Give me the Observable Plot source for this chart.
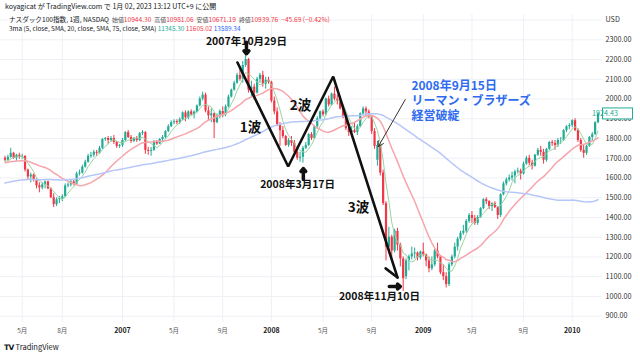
<!DOCTYPE html>
<html><head><meta charset="utf-8">
<script src="https://cdn.jsdelivr.net/npm/d3@7"></script>
<script src="https://cdn.jsdelivr.net/npm/@observablehq/plot@0.6"></script>
<style>
html,body{margin:0;padding:0;background:#fff;}
#wrap{position:relative;width:640px;height:355px;overflow:hidden;font-family:"Noto Sans CJK JP","Noto Sans",sans-serif;}
#chart svg{position:absolute;left:0;top:0;}
.hdr{position:absolute;white-space:nowrap;color:#131722;line-height:1;}
.r{color:#f23645}.g{color:#22ab94}.b{color:#2962ff}.l{color:#555;font-size:0.9em}
</style></head><body><div id="wrap"><div id="chart"></div>
<div class="hdr" style="left:5px;top:3px;font-size:7px;">koyagicat が TradingView.com で 1月 02, 2023 13:12 UTC+9 に公開</div>
<div class="hdr" style="left:9px;top:16px;font-size:6.6px;">ナスダック100指数, 1週, NASDAQ&nbsp; <span class="l">始値</span><span class="r">10944.30</span>&nbsp; <span class="l">高値</span><span class="r">10981.06</span>&nbsp; <span class="l">安値</span><span class="r">10671.19</span>&nbsp; <span class="l">終値</span><span class="r">10939.76</span>&nbsp; <span class="r">−45.69 (−0.42%)</span></div>
<div class="hdr" style="left:9px;top:26px;font-size:6.4px;">3ma (5, close, SMA, 20, close, SMA, 75, close, SMA) <span class="g">11345.30</span> <span class="r">11605.02</span> <span class="b">13589.34</span></div>
<div class="hdr" style="left:4px;top:343px;font-size:7.5px;"><b style="font-family:'DejaVu Sans';font-weight:900;letter-spacing:-0.5px">TV</b> TradingView</div>
</div>
<script>
const firstMonday = "2006-03-20";
const opens = [1700,1690,1705,1725,1700,1715,1705,1710,1640,1605,1615,1590,1560,1550,1565,1580,1545,1500,1465,1490,
1495,1505,1560,1565,1580,1570,1620,1625,1655,1680,1710,1715,1730,1725,1750,1795,1800,1790,1800,1780,
1760,1765,1790,1830,1805,1785,1800,1790,1825,1830,1740,1735,1740,1780,1772,1795,1805,1835,1860,1880,
1885,1880,1895,1930,1905,1935,1920,1934,1965,2000,2020,1940,1915,1925,1880,1915,1937,1920,1960,2010,
2045,2080,2120,2100,2170,2200,2045,2060,2030,2100,2120,2075,2095,2085,1990,1935,1870,1840,1810,1765,
1790,1775,1730,1700,1705,1750,1765,1820,1800,1860,1900,1935,1920,2000,1970,2025,2000,1990,1950,1905,
1850,1830,1840,1830,1860,1925,1950,1935,1910,1835,1690,1765,1625,1470,1250,1300,1230,1330,1260,1190,
1100,1180,1200,1215,1220,1195,1225,1210,1180,1140,1160,1230,1200,1120,1100,1060,1160,1200,1250,1290,
1320,1330,1380,1410,1395,1370,1400,1445,1490,1480,1455,1470,1450,1410,1515,1570,1590,1600,1610,1630,
1635,1620,1670,1700,1675,1660,1715,1740,1730,1690,1745,1780,1775,1765,1790,1790,1840,1860,1865,1890,
1840,1790,1740,1725,1760,1805,1820,1880];
const highs = [1710,1715,1750,1730,1720,1725,1720,1712,1645,1625,1620,1595,1575,1575,1585,1585,1550,1520,1500,1505,
1515,1570,1575,1590,1590,1630,1640,1665,1690,1720,1730,1740,1740,1760,1800,1805,1810,1810,1815,1785,
1770,1800,1835,1840,1815,1805,1810,1830,1840,1835,1755,1755,1790,1790,1800,1815,1840,1870,1890,1895,
1895,1905,1935,1940,1940,1945,1940,1970,2010,2035,2030,1960,1950,1930,1925,1945,1960,1970,2020,2050,
2090,2130,2160,2190,2239,2205,2090,2075,2110,2130,2140,2110,2110,2090,2010,1955,1880,1860,1815,1800,
1810,1790,1750,1730,1760,1780,1825,1830,1865,1910,1940,1945,2005,2015,2030,2060,2020,2010,1960,1910,
1870,1860,1880,1870,1930,1960,1960,1945,1915,1850,1785,1770,1640,1480,1350,1310,1340,1345,1270,1200,
1190,1210,1250,1245,1225,1230,1270,1215,1200,1200,1240,1270,1205,1160,1120,1170,1210,1270,1300,1330,
1360,1390,1420,1430,1410,1410,1450,1495,1500,1485,1475,1480,1455,1520,1580,1600,1615,1630,1640,1650,
1645,1680,1710,1715,1690,1720,1750,1760,1745,1750,1785,1790,1790,1800,1805,1845,1865,1875,1895,1900,
1850,1800,1770,1765,1810,1830,1885,1930];
const lows = [1680,1685,1700,1695,1685,1695,1695,1630,1590,1575,1580,1545,1525,1540,1545,1540,1495,1450,1455,1470,
1480,1500,1550,1555,1560,1565,1610,1620,1650,1675,1700,1705,1710,1720,1745,1785,1770,1780,1770,1750,
1750,1755,1785,1800,1775,1780,1780,1785,1815,1720,1715,1710,1735,1765,1770,1785,1800,1830,1855,1870,
1870,1870,1890,1885,1895,1915,1900,1930,1960,1990,1930,1890,1880,1800,1875,1900,1905,1910,1955,2005,
2040,2075,2090,2080,2160,2030,2010,1995,2025,2080,2060,2050,2075,1980,1920,1860,1760,1800,1760,1755,
1760,1720,1690,1680,1675,1745,1760,1790,1795,1850,1895,1910,1915,1960,1965,1990,1970,1945,1900,1840,
1810,1805,1825,1815,1855,1915,1910,1900,1820,1745,1660,1610,1460,1180,1220,1180,1220,1230,1150,1025,
1085,1130,1185,1190,1180,1185,1200,1150,1120,1130,1150,1190,1110,1080,1043,1050,1150,1190,1230,1280,
1310,1320,1370,1370,1360,1360,1395,1440,1465,1440,1430,1445,1390,1400,1510,1560,1580,1585,1570,1620,
1590,1615,1665,1660,1640,1655,1710,1710,1670,1680,1740,1760,1740,1755,1770,1785,1830,1845,1855,1835,
1780,1730,1700,1715,1755,1785,1815,1875];
const closes = [1690,1705,1725,1700,1715,1705,1710,1640,1605,1615,1590,1560,1550,1565,1580,1545,1500,1465,1490,1495,
1505,1560,1565,1580,1570,1620,1625,1655,1680,1710,1715,1730,1725,1750,1795,1800,1790,1800,1780,1760,
1765,1790,1830,1805,1785,1800,1790,1825,1830,1740,1735,1740,1780,1772,1795,1805,1835,1860,1880,1885,
1880,1895,1930,1905,1935,1920,1934,1965,2000,2020,1940,1915,1925,1880,1915,1937,1920,1960,2010,2045,
2080,2120,2100,2170,2200,2045,2060,2030,2100,2120,2075,2095,2085,1990,1935,1870,1840,1810,1765,1790,
1775,1730,1700,1705,1750,1765,1820,1800,1860,1900,1935,1920,2000,1970,2025,2000,1990,1950,1905,1850,
1830,1840,1830,1860,1925,1950,1935,1910,1835,1760,1765,1625,1470,1250,1300,1230,1330,1260,1190,1090,
1180,1200,1215,1220,1195,1225,1210,1180,1140,1160,1230,1200,1120,1100,1060,1160,1200,1250,1290,1320,
1330,1380,1410,1395,1370,1400,1445,1490,1480,1455,1470,1450,1410,1515,1570,1590,1600,1610,1630,1635,
1620,1670,1700,1675,1660,1715,1740,1730,1690,1745,1780,1775,1765,1790,1790,1840,1860,1865,1890,1840,
1790,1740,1725,1760,1805,1820,1880,1924.43];
// weekly closes before the visible range (only used to seed the moving averages)
const priorCloses = [1430,1460,1510,1540,1540,1560,1570,1560,1590,1610,1620,
1560,1550,1510,1520,1540,1530,1520,1530,1540,1510,1490,1470,1480,1490,1440,1430,1410,1440,1460,1510,1520,1530,1530,1540,1500,1500,
1540,1580,1600,1610,1600,1580,1570,1570,1590,1600,1590,1570,1600,1580,1560,1560,1570,1620,1640,1660,1680,1680,1690,1680,1670,1650,
1700,1720,1660,1690,1660,1650,1680,1690,1680,1660,1700];
const yTicks = [900,1000,1100,1200,1300,1400,1500,1600,1700,1800,1900,2000,2100,2200,2300,2400];
const xTickDates = ["2006-05-01","2006-08-07","2007-01-01","2007-05-07","2007-09-03","2007-12-31","2008-05-05","2008-09-01","2009-01-05","2009-05-04","2009-09-07","2010-01-04"];
const xTickLabels = ["5月","8月","2007","5月","9月","2008","5月","9月","2009","5月","9月","2010"];
const maPeriods = [5, 20, 75];
const maColors = ["#9bd3a0", "#f6a5ab", "#b6c6f7"];
// annotations (date, price)
const waveDates = ["2007-10-09","2008-02-10","2008-05-30","2008-11-03"];
const waveValues = [2185,1658,2114,1096];
const hookDates = ["2008-10-05","2008-11-03"];
const hookValues = [1142,1096];
const dateLabels = ["2007年10月29日","2008年3月17日","2008年11月10日"];
const dateLabelDates = ["2007-10-31","2008-03-04","2008-09-20"];
const dateLabelValues = [2292,1567,1000];
const waveLabels = ["1波","2波","3波"];
const waveLabelDates = ["2007-11-10","2008-03-11","2008-07-31"];
const waveLabelValues = [1853,1965,1450];
const lehmanLines = ["2008年9月15日","リーマン・ブラザーズ","経営破綻"];
const lehmanDate = "2008-12-07";
const lehmanValues = [2065,1989,1913];
const blockArrows = [
  {x1:"2007-10-31", y1:2287, x2:"2007-10-31", y2:2229},
  {x1:"2008-03-18", y1:1592, x2:"2008-03-18", y2:1648},
  {x1:"2008-10-14", y1:1050, x2:"2008-11-10", y2:1050}];
const lehmanArrow = {x1:"2008-11-22", y1:1997, x2:"2008-09-17", y2:1759};

const D = s => new Date(s + "T00:00:00Z");
const start = D(firstMonday);
const bars = closes.map((c, i) => ({date: d3.utcDay.offset(start, 7 * i), open: opens[i], high: highs[i], low: lows[i], close: c}));
const allCloses = priorCloses.concat(closes);
const maSeries = maPeriods.map((k, m) => closes.map((_, i) => {
  const j = i + priorCloses.length;
  return {date: bars[i].date, value: d3.mean(allCloses.slice(j - k + 1, j + 1)), m};
}));
const up = bars.filter(d => d.close >= d.open), down = bars.filter(d => d.close < d.open);
const GREEN = "#22ab94", RED = "#f23645", GRID = "#eef0f5";
const font = "'Noto Sans CJK JP','Noto Sans',sans-serif";
const isYear = s => /^\d{4}$/.test(s);

const plot = Plot.plot({
  width: 640, height: 355,
  marginTop: 14, marginBottom: 33, marginLeft: 0, marginRight: 38,
  x: {type: "utc", domain: [D("2006-03-09"), D("2010-03-19")]},
  y: {domain: [867.9, 2428.2]},
  style: {fontFamily: font, background: "transparent", overflow: "visible"},
  marks: [
    Plot.ruleY(yTicks, {stroke: GRID, strokeWidth: 1}),
    Plot.ruleX(xTickDates.map(D), {stroke: GRID, strokeWidth: 1}),
    Plot.axisY({anchor: "right", ticks: yTicks, tickSize: 0, tickPadding: 3, fontSize: 7.2, color: "#333",
      tickFormat: d => d === 2400 ? "USD" : d.toFixed(2), label: null}),
    Plot.axisX({ticks: xTickDates.filter((d, i) => !isYear(xTickLabels[i])).map(D), tickSize: 0, tickPadding: 6, fontSize: 6.5, color: "#555",
      tickFormat: d => xTickLabels[xTickDates.indexOf(d.toISOString().slice(0, 10))], label: null}),
    Plot.axisX({ticks: xTickDates.filter((d, i) => isYear(xTickLabels[i])).map(D), tickSize: 0, tickPadding: 6, fontSize: 7, fontWeight: "bold", color: "#222",
      tickFormat: d => xTickLabels[xTickDates.indexOf(d.toISOString().slice(0, 10))], label: null}),
    Plot.ruleX(up, {x: "date", y1: "low", y2: "high", stroke: GREEN, strokeWidth: 1}),
    Plot.ruleX(down, {x: "date", y1: "low", y2: "high", stroke: RED, strokeWidth: 1}),
    Plot.ruleX(up, {x: "date", y1: "open", y2: "close", stroke: GREEN, strokeWidth: 2.2}),
    Plot.ruleX(down, {x: "date", y1: "open", y2: "close", stroke: RED, strokeWidth: 2.2}),
    ...maSeries.map((s, m) => Plot.line(s, {x: "date", y: "value", stroke: maColors[m], strokeWidth: m === 0 ? 1 : 1.5})),
    Plot.line(waveDates.map((d, i) => ({date: D(d), v: waveValues[i]})), {x: "date", y: "v", stroke: "#111", strokeWidth: 2.6, strokeLinejoin: "miter"}),
    Plot.line(hookDates.map((d, i) => ({date: D(d), v: hookValues[i]})), {x: "date", y: "v", stroke: "#111", strokeWidth: 2.6}),
    Plot.arrow(blockArrows, {x1: d => D(d.x1), y1: "y1", x2: d => D(d.x2), y2: "y2", stroke: "#111", strokeWidth: 3.5, headLength: 7, headAngle: 80}),
    Plot.arrow([lehmanArrow], {x1: d => D(d.x1), y1: "y1", x2: d => D(d.x2), y2: "y2", stroke: "#333", strokeWidth: 1, headLength: 9}),
    Plot.text(dateLabels, {x: (d, i) => D(dateLabelDates[i]), y: (d, i) => dateLabelValues[i], text: d => d, fontSize: 10.5, fontWeight: "bold", fill: "#111", textAnchor: "middle"}),
    Plot.text(waveLabels, {x: (d, i) => D(waveLabelDates[i]), y: (d, i) => waveLabelValues[i], text: d => d, fontSize: 13.5, fontWeight: "bold", fill: "#111", textAnchor: "middle"}),
    Plot.text(lehmanLines, {x: D(lehmanDate), y: (d, i) => lehmanValues[i], text: d => d, fontSize: 12, fontWeight: "bold", fill: "#2f6bef", textAnchor: "start"})
  ]
});
document.getElementById("chart").appendChild(plot);

// last price label on the price axis
const ys = plot.scale("y");
const last = closes[closes.length - 1];
const svg = d3.select(plot);
const py = ys.apply(last);
svg.append("rect").attr("x", 602.5).attr("y", py - 5.5).attr("width", 30).attr("height", 11)
  .attr("fill", "#fff").attr("stroke", GREEN).attr("stroke-width", 1);
svg.append("text").attr("x", 605).attr("y", py).attr("dy", "0.35em").attr("font-size", 7.2)
  .attr("fill", GREEN).attr("font-family", font).text(last.toFixed(2));
</script></body></html>
